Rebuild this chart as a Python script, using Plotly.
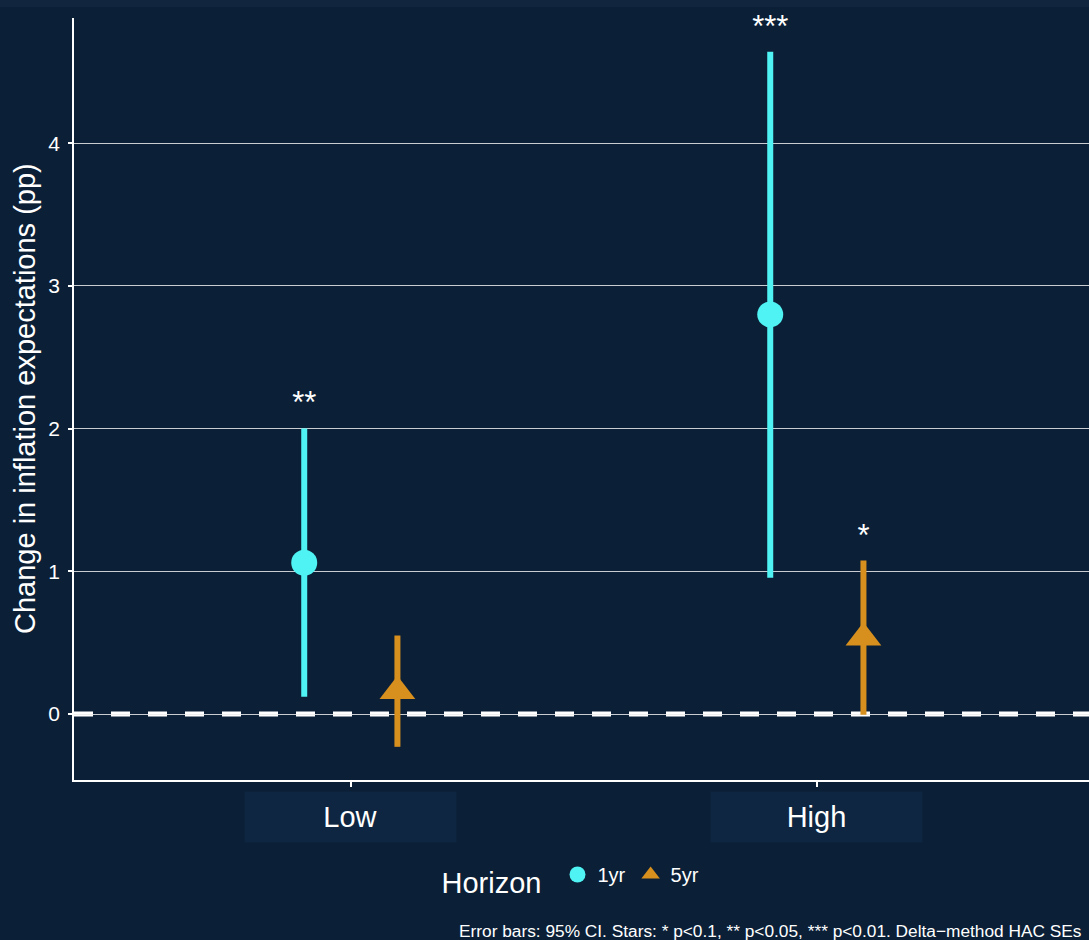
import plotly.graph_objects as go

# ---- data ----
groups = ["Low", "High"]
horizons = ["1yr", "5yr"]
est_1yr = [1.06, 2.80]
lo_1yr = [0.12, 0.955]
hi_1yr = [2.00, 4.64]
est_5yr = [0.16, 0.535]
lo_5yr = [-0.23, -0.005]
hi_5yr = [0.55, 1.075]
stars_1yr = ["**", "***"]
stars_5yr = ["", "*"]
y_ticks = [0, 1, 2, 3, 4]
caption = "Error bars: 95% CI. Stars: * p<0.1, ** p<0.05, *** p<0.01. Delta\u2212method HAC SEs"

# ---- style ----
BG = "#0B1F37"
TOPBAND = "#12253F"
STRIP = "#0E2641"
CYAN = "#4FF3F3"
ORANGE = "#D78F1E"
FONT = "Liberation Sans, Arial, sans-serif"
DODGE = 0.1
STAR_OFF = 0.16
W, H = 1089, 940
ML, MR, MT, MB = 74, 0, 18, 160
PW, PH = W - ML - MR, H - MT - MB

def px_x(p):
    return (p - ML) / PW

def px_y(p):
    return (H - MB - p) / PH

xidx = [i + 1 for i in range(len(groups))]

fig = go.Figure()

series = [
    ("1yr", est_1yr, lo_1yr, hi_1yr, stars_1yr, -DODGE, CYAN, "circle", 26),
    ("5yr", est_5yr, lo_5yr, hi_5yr, stars_5yr, DODGE, ORANGE, "triangle-up", 31),
]

# zero dashed line
fig.add_shape(type="line", xref="paper", yref="y", x0=0, x1=1, y0=0, y1=0,
              line=dict(color="white", width=5, dash="19px,18px"), layer="below")

for name, est, lo, hi, stars, off, col, sym, size in series:
    xs = [x + off for x in xidx]
    fig.add_trace(go.Scatter(
        x=xs, y=est, mode="markers", name=name,
        marker=dict(color=col, symbol=sym, size=size, line=dict(width=0)),
        error_y=dict(type="data", symmetric=False,
                     array=[h - e for h, e in zip(hi, est)],
                     arrayminus=[e - l for e, l in zip(est, lo)],
                     color=col, thickness=6, width=0),
    ))
    fig.add_trace(go.Scatter(
        x=xs, y=[h + STAR_OFF for h in hi], mode="text", text=stars,
        textposition="middle center", showlegend=False, hoverinfo="skip",
        cliponaxis=False,
        textfont=dict(color="white", size=31, family=FONT),
    ))

annotations = []
for g, xv in zip(groups, xidx):
    annotations.append(dict(
        x=xv, xref="x", y=px_y(817), yref="paper", text=g, showarrow=False,
        font=dict(color="white", size=29, family=FONT),
        bgcolor=STRIP, width=211, height=50, borderpad=0,
        xanchor="center", yanchor="middle"))

annotations.append(dict(
    x=px_x(25), xref="paper", y=0.5, yref="paper",
    text="Change in inflation expectations (pp)", textangle=-90, showarrow=False,
    font=dict(color="white", size=29, family=FONT), xanchor="center", yanchor="middle"))

annotations.append(dict(
    x=px_x(457), xref="paper", y=px_y(931), yref="paper", text=caption,
    showarrow=False, font=dict(color="white", size=17.3, family=FONT),
    xanchor="left", yanchor="middle"))

fig.update_layout(
    width=W, height=H,
    margin=dict(l=ML, r=MR, t=MT, b=MB),
    paper_bgcolor=BG, plot_bgcolor=BG,
    font=dict(family=FONT, color="white"),
    annotations=annotations,
    shapes=list(fig.layout.shapes) + [dict(
        type="rect", xref="paper", yref="paper", x0=px_x(0), x1=px_x(W),
        y0=px_y(7), y1=px_y(0), fillcolor=TOPBAND, line=dict(width=0), layer="below")],
    legend=dict(
        orientation="h", x=px_x(572), xanchor="center", y=px_y(879), yanchor="middle",
        title=dict(text="Horizon ", font=dict(size=29, color="white", family=FONT)),
        font=dict(size=20, color="white", family=FONT),
        bgcolor="rgba(0,0,0,0)", itemsizing="trace",
    ),
    xaxis=dict(
        range=[0.406, 2.584], tickvals=xidx, ticktext=["", ""], showgrid=False,
        zeroline=False, showline=True, linecolor="white", linewidth=1.5,
        ticks="outside", ticklen=5, tickwidth=2, tickcolor="white", fixedrange=True,
    ),
    yaxis=dict(
        range=[-0.4625, 4.877], tickvals=y_ticks, ticktext=[str(t) for t in y_ticks],
        showgrid=True, gridcolor="rgba(235,235,235,0.85)", gridwidth=1,
        zeroline=False, showline=True, linecolor="white", linewidth=1.5,
        ticks="outside", ticklen=4, tickwidth=2, tickcolor="white",
        tickfont=dict(size=21, color="white", family=FONT), ticklabelstandoff=4,
    ),
)

fig.write_html("out.html")
